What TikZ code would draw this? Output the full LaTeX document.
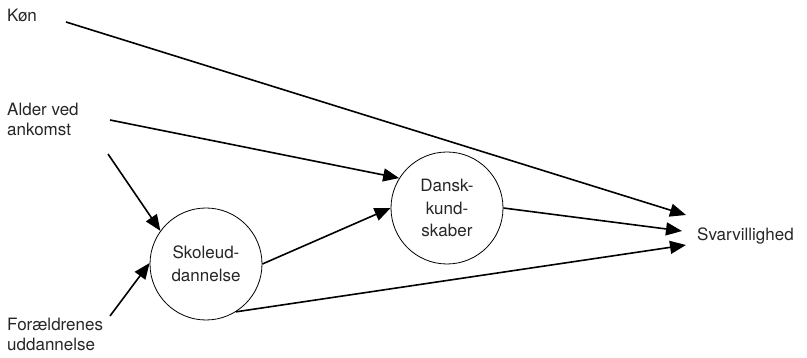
\documentclass[tikz,border=0pt]{standalone}
\usepackage{fontspec}
\setmainfont{TeX Gyre Heros}
\usetikzlibrary{arrows.meta}
\begin{document}
\begin{tikzpicture}[x=1pt,y=-1pt,
  txt/.style={font=\fontsize{17}{20.5}\selectfont, text=black!85},
  lbl/.style={txt, inner sep=0pt, align=left, anchor=north west},
  var/.style={circle, draw, line width=0.8pt, minimum size=112pt, inner sep=0pt, align=center, txt, font=\fontsize{17}{22.5}\selectfont},
  conn/.style={line width=1.6pt, -{Triangle[length=16pt,width=13pt]}}]
\useasboundingbox (0,0) rectangle (807,358);
\node[lbl] (kon) at (7,8.7) {Køn};
\node[lbl] (alder) at (7,102.7) {Alder ved\\ankomst};
\node[lbl] (forae) at (7,317.7) {Forældrenes\\uddannelse};
\node[var] (sk) at (206,264) {Skoleud-\\dannelse};
\node[var] (dk) at (447,208) {Dansk-\\kund-\\skaber};
\node[lbl] (sv) at (697,227.7) {Svarvillighed};
\coordinate (konout) at (66,22);
\coordinate (alderout) at (110,120);
\coordinate (alderout2) at (108,154);
\coordinate (foraeout) at (110,316);
\coordinate (svin1) at (686,215);
\coordinate (svin2) at (682,231);
\coordinate (svin3) at (686,245);
\draw[conn] (konout) -- (svin1);
\draw[conn] (alderout) -- (dk.148);
\draw[conn] (alderout2) -- (sk.144);
\draw[conn] (foraeout) -- (sk.179);
\draw[conn] (sk.east) -- (dk.west);
\draw[conn] (sk.-58) -- (svin3);
\draw[conn] (dk.east) -- (svin2);
\end{tikzpicture}
\end{document}
